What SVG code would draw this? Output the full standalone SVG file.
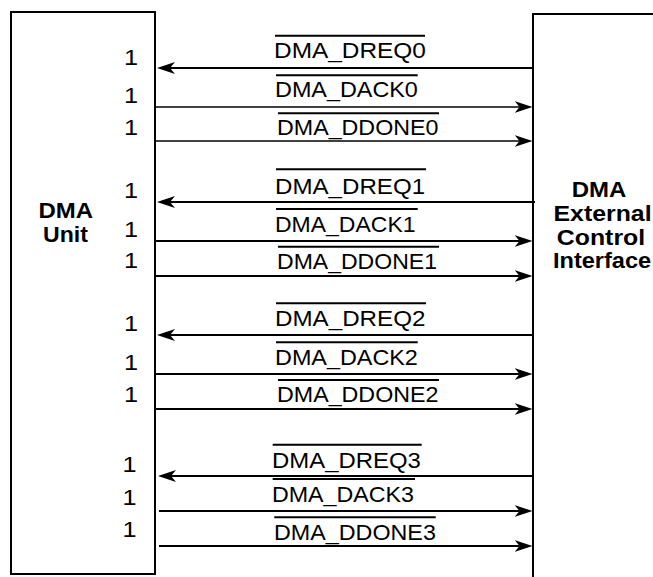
<svg xmlns="http://www.w3.org/2000/svg" width="653" height="577" viewBox="0 0 653 577">
<style>
.box{fill:#fff;stroke:#000;stroke-width:2}
.lbl{font-family:"Liberation Sans",Arial,sans-serif;font-size:22px;fill:#000}
.one{font-family:"Liberation Sans",Arial,sans-serif;font-size:22px;fill:#000}
.ttl{font-family:"Liberation Sans",Arial,sans-serif;font-size:22px;font-weight:bold;fill:#000}
.ov{stroke:#000;stroke-width:2}
.c{stroke:#000;stroke-width:2;fill:none}
.thin{stroke-width:1.3}
.l{marker-end:url(#ah)}
</style>
<defs>
<marker id="ah" viewBox="0 -7 19 14" refX="5" refY="0" markerWidth="19" markerHeight="14" markerUnits="userSpaceOnUse" orient="auto">
<path d="M0,-6 L18,0 L0,6 L5,0 Z" fill="#000"/>
</marker>
</defs>
<rect width="653" height="577" fill="#fff"/>
<g id="dma_unit">
<rect class="box" x="11" y="12" width="144" height="562"/>
<text class="ttl" transform="translate(38.5,217.5) scale(1.09,1)">DMA</text>
<text class="ttl" transform="translate(43,241.5) scale(1.05,1)">Unit</text>
<g id="widths">
<text class="one" transform="translate(124,65) scale(1.15,1)">1</text>
<text class="one" transform="translate(124,103.3) scale(1.15,1)">1</text>
<text class="one" transform="translate(124,135) scale(1.15,1)">1</text>
<text class="one" transform="translate(124,198) scale(1.15,1)">1</text>
<text class="one" transform="translate(124,236.7) scale(1.15,1)">1</text>
<text class="one" transform="translate(124,267.7) scale(1.15,1)">1</text>
<text class="one" transform="translate(124,330.7) scale(1.15,1)">1</text>
<text class="one" transform="translate(124,370) scale(1.15,1)">1</text>
<text class="one" transform="translate(124,401.7) scale(1.15,1)">1</text>
<text class="one" transform="translate(122.5,471.7) scale(1.15,1)">1</text>
<text class="one" transform="translate(122.5,505) scale(1.15,1)">1</text>
<text class="one" transform="translate(122.5,536.7) scale(1.15,1)">1</text>
</g>
</g>
<g id="dma_external_control_interface">
<rect class="box" x="533" y="14" width="200" height="600"/>
<text class="ttl" transform="translate(571.8,196.5) scale(1.09,1)">DMA</text>
<text class="ttl" transform="translate(553.5,221) scale(1.13,1)">External</text>
<text class="ttl" transform="translate(556.8,244.5) scale(1.13,1)">Control</text>
<text class="ttl" transform="translate(553,268) scale(1.07,1)">Interface</text>
</g>
<g id="connectors">
<line class="c l" x1="533" y1="68" x2="170" y2="68"/>
<line class="c thin l" x1="155" y1="107" x2="519.5" y2="107"/>
<line class="c thin l" x1="155" y1="141" x2="519.5" y2="141"/>
<line class="c l" x1="535" y1="202" x2="170" y2="202"/>
<line class="c l" x1="155" y1="241" x2="519.5" y2="241"/>
<line class="c l" x1="155" y1="276" x2="519.5" y2="276"/>
<line class="c l" x1="533" y1="335" x2="170" y2="335"/>
<line class="c l" x1="155" y1="374" x2="519.5" y2="374"/>
<line class="c l" x1="155" y1="409" x2="519.5" y2="409"/>
<line class="c l" x1="533" y1="476" x2="171" y2="476"/>
<line class="c l" x1="159" y1="511" x2="519.5" y2="511"/>
<line class="c l" x1="159" y1="546" x2="519.5" y2="546"/>
</g>
<g id="signal_labels">
<line class="ov" x1="275" y1="35.7" x2="425" y2="35.7"/>
<text class="lbl" transform="translate(274,58) scale(1.11,1)">DMA_DREQ0</text>
<line class="ov" x1="276" y1="75.3" x2="417.7" y2="75.3"/>
<text class="lbl" transform="translate(275,97) scale(1.063,1)">DMA_DACK0</text>
<line class="ov" x1="278" y1="113.3" x2="439" y2="113.3"/>
<text class="lbl" transform="translate(277,134.5) scale(1.057,1)">DMA_DDONE0</text>
<line class="ov" x1="276" y1="169.3" x2="426" y2="169.3"/>
<text class="lbl" transform="translate(275,193.5) scale(1.096,1)">DMA_DREQ1</text>
<line class="ov" x1="276" y1="209" x2="417.7" y2="209"/>
<text class="lbl" transform="translate(275,231.5) scale(1.045,1)">DMA_DACK1</text>
<line class="ov" x1="278" y1="246.7" x2="439" y2="246.7"/>
<text class="lbl" transform="translate(277,269) scale(1.047,1)">DMA_DDONE1</text>
<line class="ov" x1="276" y1="303.3" x2="426" y2="303.3"/>
<text class="lbl" transform="translate(275,326) scale(1.099,1)">DMA_DREQ2</text>
<line class="ov" x1="276" y1="342.3" x2="417.7" y2="342.3"/>
<text class="lbl" transform="translate(275,365) scale(1.063,1)">DMA_DACK2</text>
<line class="ov" x1="278" y1="380" x2="439" y2="380"/>
<text class="lbl" transform="translate(277,401.5) scale(1.057,1)">DMA_DDONE2</text>
<line class="ov" x1="272.7" y1="444.7" x2="421.7" y2="444.7"/>
<text class="lbl" transform="translate(272,467.5) scale(1.088,1)">DMA_DREQ3</text>
<line class="ov" x1="272.7" y1="479" x2="415" y2="479"/>
<text class="lbl" transform="translate(272,502) scale(1.056,1)">DMA_DACK3</text>
<line class="ov" x1="274.3" y1="517.3" x2="435.7" y2="517.3"/>
<text class="lbl" transform="translate(274,540) scale(1.06,1)">DMA_DDONE3</text>
</g>
</svg>
